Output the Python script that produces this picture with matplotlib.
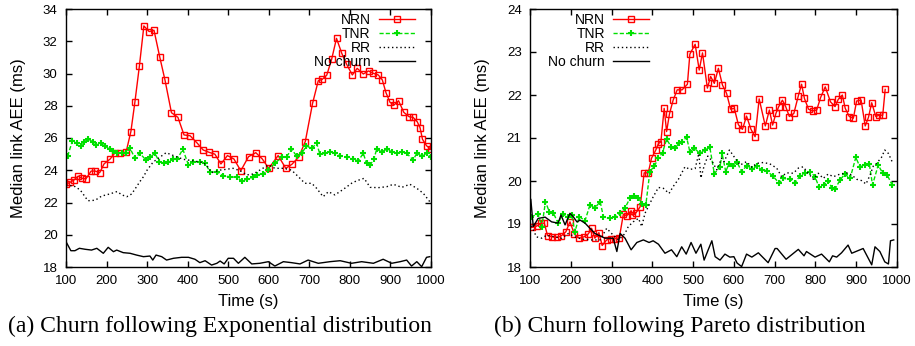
import matplotlib
matplotlib.use("Agg")
import matplotlib.pyplot as plt

plt.rcParams['font.family'] = ['Liberation Sans', 'DejaVu Sans']

# ---- (a) exponential churn ----
exp_nrn_t = [100, 110, 120, 130, 139, 149, 162, 172, 183, 194, 209, 221, 233, 248, 260, 270, 281, 292,
             305, 317, 331, 344, 360, 376, 391, 406, 424, 438, 453, 467, 482, 498, 514, 531, 550, 568,
             584, 600, 623, 642, 657, 674, 690, 708, 722, 732, 743, 755, 767, 780, 792, 806, 818, 833,
             846, 858, 870, 880, 889, 899, 909, 920, 933, 946, 956, 966, 973, 979, 989, 1000]
exp_nrn_v = [23.13, 23.25, 23.4, 23.64, 23.5, 23.46, 23.95, 23.95, 23.85, 24.4, 24.7, 25.09, 25.05, 25.11,
             26.4, 28.25, 30.47, 32.95, 32.6, 32.68, 31.04, 29.6, 27.57, 27.28, 26.19, 26.14, 25.67, 25.26,
             25.11, 25.0, 24.39, 24.91, 24.7, 23.97, 24.84, 25.09, 24.7, 24.12, 24.91, 24.12, 24.37, 24.82,
             25.78, 28.15, 29.55, 29.64, 29.9, 30.88, 32.18, 31.25, 30.57, 29.91, 30.32, 29.97, 30.16,
             30.01, 29.91, 29.6, 28.81, 28.21, 28.05, 28.31, 27.59, 27.32, 27.28, 27.01, 26.64, 25.92,
             25.52, 25.3]

exp_tnr_t = [104, 116, 126, 136, 145, 155, 166, 174, 186, 196, 208, 217, 226, 237, 248, 258, 270, 282,
             297, 307, 319, 330, 342, 352, 365, 374, 388, 402, 414, 430, 443, 455, 472, 488, 504, 521,
             533, 546, 560, 570, 586, 599, 615, 632, 644, 656, 669, 681, 693, 706, 718, 726, 739, 751,
             763, 776, 792, 808, 821, 833, 841, 850, 859, 866, 878, 891, 903, 915, 928, 940, 956, 965,
             977, 989, 1000]
exp_tnr_v = [24.88, 25.83, 25.67, 25.5, 25.77, 25.92, 25.77, 25.57, 25.67, 25.5, 25.3, 25.19, 25.05, 25.09,
             25.09, 25.36, 24.74, 25.05, 24.64, 24.8, 25.05, 24.53, 24.47, 24.53, 24.68, 24.68, 25.3, 24.33,
             24.53, 24.53, 24.43, 23.91, 23.91, 23.64, 23.6, 23.56, 23.35, 23.44, 23.56, 23.71, 23.77,
             24.02, 24.43, 24.8, 24.84, 25.3, 24.88, 25.05, 25.5, 25.36, 25.67, 25.0, 25.05, 25.15, 25.05,
             24.88, 24.8, 24.68, 24.59, 25.05, 24.43, 24.33, 24.68, 25.3, 25.15, 25.3, 25.15, 25.05, 25.15,
             25.05, 24.64, 25.05, 24.88, 25.05, 24.8]

exp_rr_t = [100, 118, 135, 154, 172, 188, 208, 226, 238, 250, 262, 274, 282, 291, 300, 315, 332, 347,
            369, 389, 412, 439, 448, 459, 480, 496, 512, 529, 546, 562, 578, 599, 615, 636, 656, 673,
            689, 706, 718, 734, 747, 763, 784, 804, 817, 835, 850, 870, 891, 907, 928, 948, 965, 981, 997]
exp_rr_v = [23.02, 23.05, 22.78, 22.11, 22.14, 22.4, 22.53, 22.68, 22.47, 22.36, 22.53, 22.98, 23.29,
            23.6, 24.01, 24.51, 24.82, 25.09, 24.87, 24.68, 24.59, 24.47, 24.26, 23.85, 24.01, 24.06,
            24.12, 23.97, 23.71, 23.77, 24.01, 24.33, 24.12, 24.12, 24.01, 23.6, 23.19, 23.19, 22.88,
            22.36, 22.67, 22.47, 22.82, 23.19, 23.35, 23.5, 22.94, 22.92, 22.98, 23.13, 22.94, 23.13,
            22.88, 22.57, 22.05]

exp_none_t = [100, 112, 122, 133, 147, 163, 176, 192, 204, 217, 225, 241, 258, 274, 291, 307, 314, 322,
              336, 348, 365, 385, 402, 418, 430, 443, 459, 472, 480, 490, 500, 513, 525, 541, 558, 578,
              599, 615, 636, 656, 677, 697, 722, 751, 776, 804, 829, 858, 882, 903, 924, 940, 952, 965,
              977, 989, 997]
exp_none_v = [19.57, 19.01, 19.01, 19.16, 19.1, 19.05, 19.16, 18.85, 19.22, 18.95, 19.05, 18.89, 18.85,
              18.74, 18.64, 18.68, 18.43, 18.74, 18.64, 18.43, 18.54, 18.6, 18.6, 18.48, 18.27, 18.39,
              18.12, 18.23, 18.37, 18.19, 18.54, 18.54, 18.23, 18.6, 18.19, 18.23, 18.33, 18.06, 18.33,
              18.27, 18.19, 18.43, 18.23, 18.33, 18.39, 18.23, 18.33, 18.23, 18.48, 18.23, 18.33, 18.43,
              18.06, 18.33, 18.02, 18.6, 18.64]

# ---- (b) pareto churn ----
par_nrn_t = [104, 116, 127, 135, 143, 155, 167, 176, 188, 198, 209, 221, 232, 243, 251, 259, 269, 277,
             288, 299, 308, 319, 329, 337, 348, 351, 360, 370, 380, 390, 398, 408, 415, 421, 429, 435,
             442, 451, 461, 473, 486, 492, 505, 515, 523, 535, 543, 552, 562, 572, 582, 592, 601, 611,
             621, 631, 642, 652, 662, 677, 687, 695, 703, 710, 719, 727, 736, 747, 758, 766, 773, 783,
             793, 803, 813, 824, 837, 848, 856, 866, 873, 883, 893, 901, 912, 922, 930, 938, 948, 956,
             965, 971]
par_nrn_v = [18.92, 18.95, 19.02, 19.02, 18.73, 18.7, 18.69, 18.72, 18.82, 19.05, 18.76, 18.67, 18.7,
             18.77, 18.9, 18.67, 18.8, 18.5, 18.63, 18.66, 18.66, 18.68, 19.23, 19.19, 19.31, 19.21,
             19.26, 19.4, 20.19, 20.19, 20.53, 20.71, 20.87, 20.91, 21.69, 21.15, 21.56, 21.88, 22.12,
             22.12, 22.25, 22.95, 23.18, 22.58, 22.98, 22.16, 22.43, 22.27, 22.62, 22.23, 22.04, 21.67,
             21.69, 21.31, 21.2, 21.51, 21.2, 21.03, 21.91, 21.28, 21.65, 21.3, 21.57, 21.73, 21.88,
             21.73, 21.5, 21.57, 21.98, 22.25, 21.92, 21.67, 21.63, 21.65, 21.95, 22.19, 21.84, 21.73,
             21.9, 22.0, 21.69, 21.5, 21.46, 21.86, 21.88, 21.28, 21.48, 21.82, 21.5, 21.53, 21.53, 22.13]

par_tnr_t = [102, 120, 129, 138, 147, 157, 169, 180, 192, 202, 210, 221, 235, 247, 259, 272, 280, 296,
             308, 321, 333, 345, 356, 366, 375, 384, 394, 405, 415, 425, 435, 446, 456, 465, 473, 484,
             492, 503, 517, 529, 541, 552, 566, 571, 580, 588, 598, 607, 619, 631, 644, 656, 668, 680,
             695, 711, 721, 738, 750, 762, 774, 787, 799, 809, 821, 832, 840, 848, 860, 872, 885, 899,
             909, 921, 932, 940, 954, 965, 976, 988]
par_tnr_v = [19.17, 19.23, 18.94, 19.52, 19.29, 19.26, 19.02, 19.23, 19.17, 19.21, 18.82, 19.17, 19.08,
             19.44, 19.37, 19.52, 19.17, 19.13, 19.17, 19.25, 19.37, 19.6, 19.65, 19.6, 19.47, 19.44,
             20.22, 20.35, 20.53, 20.66, 20.97, 20.8, 20.76, 20.88, 20.91, 21.02, 20.68, 20.76, 20.64,
             20.72, 20.78, 20.17, 20.33, 20.64, 20.22, 20.4, 20.35, 20.45, 20.22, 20.35, 20.27, 20.35,
             20.26, 20.24, 20.12, 19.95, 20.06, 20.04, 19.96, 20.12, 20.19, 20.22, 20.1, 19.85, 19.91,
             20.01, 19.83, 19.81, 20.02, 20.16, 20.06, 20.55, 20.33, 20.37, 20.4, 19.91, 20.37, 20.18,
             20.14, 19.91]

par_rr_t = [100, 108, 116, 129, 141, 161, 178, 194, 210, 227, 251, 272, 288, 300, 317, 325, 333, 341,
            353, 366, 374, 382, 392, 402, 415, 427, 441, 451, 464, 480, 492, 505, 514, 519, 527, 536,
            546, 558, 570, 576, 589, 603, 615, 631, 644, 656, 672, 688, 705, 717, 729, 746, 758, 770,
            782, 795, 807, 819, 831, 844, 860, 877, 889, 901, 913, 924, 934, 942, 950, 962, 970, 979, 988]
par_rr_v = [19.05, 18.86, 18.7, 18.67, 18.74, 18.7, 18.67, 18.78, 18.7, 18.65, 18.63, 18.63, 18.9, 18.78,
            18.63, 18.7, 18.78, 18.94, 19.05, 19.13, 18.94, 19.25, 19.44, 19.63, 19.85, 19.83, 19.71,
            19.87, 20.04, 20.33, 20.27, 20.29, 20.64, 20.07, 20.35, 20.58, 20.47, 20.26, 20.53, 20.45,
            20.72, 20.53, 20.37, 20.45, 20.32, 20.41, 20.43, 20.4, 20.3, 20.1, 20.19, 20.18, 20.3, 20.33,
            20.18, 20.04, 20.18, 20.06, 20.16, 20.1, 20.16, 20.19, 20.14, 20.04, 20.01, 19.93, 20.14,
            20.35, 20.41, 20.55, 20.72, 20.64, 20.45]

par_none_t = [102, 108, 120, 137, 153, 169, 176, 186, 198, 206, 215, 223, 235, 259, 284, 304, 313, 321,
              333, 348, 362, 378, 392, 402, 415, 431, 447, 460, 472, 483, 495, 507, 519, 527, 537, 546,
              554, 566, 578, 590, 600, 608, 619, 631, 644, 660, 684, 701, 706, 728, 758, 772, 778, 799,
              815, 834, 842, 852, 864, 880, 889, 917, 938, 946, 958, 970, 979, 984, 992]
par_none_v = [19.57, 18.94, 19.13, 19.16, 19.05, 19.02, 19.21, 18.98, 19.25, 19.17, 19.05, 19.09, 19.02,
              18.78, 18.67, 18.67, 18.36, 18.78, 18.67, 18.4, 18.57, 18.63, 18.57, 18.61, 18.53, 18.32,
              18.4, 18.24, 18.47, 18.3, 18.57, 18.32, 18.53, 18.16, 18.4, 18.61, 18.24, 18.16, 18.3,
              18.23, 18.24, 18.09, 18.01, 18.3, 18.23, 18.33, 18.1, 18.43, 18.43, 18.18, 18.41, 18.26,
              18.36, 18.23, 18.3, 18.12, 18.26, 18.23, 18.33, 18.51, 18.32, 18.43, 18.05, 18.47, 18.36,
              18.12, 18.07, 18.61, 18.63]

x_ticks = [100, 200, 300, 400, 500, 600, 700, 800, 900, 1000]
captions = ["(a) Churn following Exponential distribution",
            "(b) Churn following Pareto distribution"]

RED = "#ff0000"
GREEN = "#00e000"

fig = plt.figure(figsize=(9.15, 3.46), dpi=100)
ax1 = fig.add_axes([66 / 915, 79 / 346, 365 / 915, 258 / 346])
ax2 = fig.add_axes([530 / 915, 79 / 346, 367 / 915, 258 / 346])


def draw(ax, nrn, tnr, rr, none):
    ax.plot(nrn[0], nrn[1], color=RED, lw=1, marker="s", ms=4, mfc="none", mew=1, label="NRN")
    ax.plot(tnr[0], tnr[1], color=GREEN, lw=1, ls=(0, (3, 1.5)), marker="+", ms=5, mew=1.5, label="TNR")
    ax.plot(rr[0], rr[1], color="black", lw=1, ls=(0, (1, 2)), label="RR")
    ax.plot(none[0], none[1], color="black", lw=1, label="No churn")
    ax.set_xlim(100, 1000)
    ax.set_xticks(x_ticks)
    ax.tick_params(direction="in", top=True, right=True, length=4, width=1, labelsize=9.5, pad=6)
    ax.set_xlabel("Time (s)", fontsize=12, labelpad=5)
    ax.set_ylabel("Median link AEE (ms)", fontsize=12, labelpad=12)
    for s in ax.spines.values():
        s.set_linewidth(1)


draw(ax1, (exp_nrn_t, exp_nrn_v), (exp_tnr_t, exp_tnr_v), (exp_rr_t, exp_rr_v), (exp_none_t, exp_none_v))
ax1.set_ylim(18, 34)
ax1.set_yticks(range(18, 35, 2))
ax1.legend(loc="upper right", bbox_to_anchor=(0.956, 0.985), frameon=False, markerfirst=False,
           fontsize=10, labelspacing=0.0, handlelength=2.6, handletextpad=0.6,
           borderpad=0, borderaxespad=0)

draw(ax2, (par_nrn_t, par_nrn_v), (par_tnr_t, par_tnr_v), (par_rr_t, par_rr_v), (par_none_t, par_none_v))
ax2.set_ylim(18, 24)
ax2.set_yticks(range(18, 25))
ax2.legend(loc="upper left", bbox_to_anchor=(0.05, 0.985), frameon=False, markerfirst=False,
           fontsize=10, labelspacing=0.0, handlelength=2.6, handletextpad=0.6,
           borderpad=0, borderaxespad=0)

fig.text(220 / 915, 1 - 326 / 346, captions[0], ha="center", va="center",
         fontsize=17, family=["Liberation Serif", "DejaVu Serif"])
fig.text(680 / 915, 1 - 326 / 346, captions[1], ha="center", va="center",
         fontsize=17, family=["Liberation Serif", "DejaVu Serif"])

fig.savefig("out.png", dpi=100)
